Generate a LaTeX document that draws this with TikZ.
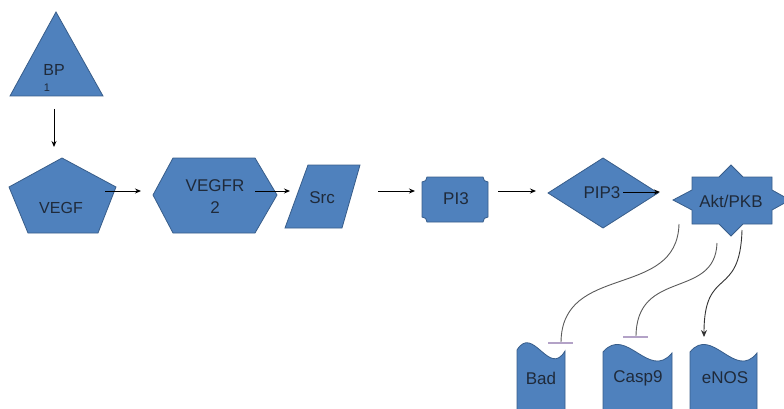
\documentclass[tikz,border=0pt]{standalone}
\usepackage{fontspec}
\setmainfont{Liberation Sans}
\usetikzlibrary{arrows.meta}
\definecolor{shapefill}{HTML}{4F81BD}
\definecolor{shapeline}{HTML}{385D8A}
\definecolor{curvecol}{HTML}{5A5A5A}
\definecolor{barcol}{HTML}{B3A2C7}
\definecolor{txtcol}{HTML}{1F2A3A}
\tikzset{
  blob/.style={fill=shapefill,draw=shapeline,line width=0.8pt,line join=miter},
  lbl/.style={text=txtcol,font=\fontsize{17}{20}\selectfont,inner sep=0pt},
  arr/.style={draw=black,line width=0.9pt,-{Stealth[length=6pt,width=5pt]}},
  crv/.style={draw=curvecol,line width=0.9pt},
  crvarr/.style={draw=black!80,line width=0.9pt,-{Stealth[length=7pt,width=6pt]}},
  inhbar/.style={draw=barcol,line width=1.8pt}
}
\begin{document}
\begin{tikzpicture}[x=1pt,y=-1pt]
\useasboundingbox (0,0) rectangle (784,409);
% BP1 triangle
\path[blob] (56,12) -- (103,96) -- (10,96) -- cycle;
\node[lbl,font=\fontsize{16}{19}\selectfont] (bp) at (54,70) {BP};
\node[lbl,font=\fontsize{11}{13}\selectfont] (bpone) at (47,88) {1};
% VEGF pentagon
\path[blob] (62,158) -- (116,187) -- (98,233) -- (28,233) -- (9,187) -- cycle;
\node[lbl,font=\fontsize{16}{19}\selectfont] (vegf) at (61,208) {VEGF};
% VEGFR2 hexagon
\path[blob] (153,195) -- (173,158) -- (255,158) -- (277,195) -- (255,233) -- (173,233) -- cycle;
\node[lbl] (vegfr) at (215,186) {VEGFR};
\node[lbl] (vegfrtwo) at (215,208) {2};
% Src parallelogram
\path[blob] (308,165) -- (360,165) -- (342,228) -- (285,228) -- cycle;
\node[lbl] (src) at (322,198) {Src};
% PI3 plaque
\path[blob] (427,177) -- (483,177) .. controls (483,180) and (485,182) .. (488,182)
  -- (488,217) .. controls (485,217) and (483,219) .. (483,222)
  -- (427,222) .. controls (427,219) and (425,217) .. (422,217)
  -- (422,182) .. controls (425,182) and (427,180) .. (427,177) -- cycle;
\node[lbl] (pi3) at (456,199) {PI3};
% PIP3 diamond
\path[blob] (548,193) -- (603,158) -- (658,193) -- (603,228) -- cycle;
\node[lbl] (pip3) at (602,193) {PIP3};
% Akt/PKB star
\path[blob] (673,200) -- (692,190) -- (692,177) -- (719,177) -- (731,165) -- (743,177)
  -- (772,177) -- (772,190) -- (790,200) -- (772,210) -- (772,224) -- (743,224)
  -- (731,236) -- (719,224) -- (692,224) -- (692,210) -- cycle;
\node[lbl] (akt) at (731,201) {Akt/PKB};
% wave shapes
\path[blob] (517,350) .. controls (533,324) and (549,378) .. (565,351)
  -- (565,421) .. controls (549,448) and (533,394) .. (517,420) -- cycle;
\node[lbl] (bad) at (541,378) {Bad};
\path[blob] (603,352) .. controls (626,325) and (649,381) .. (672,353)
  -- (672,423) .. controls (649,451) and (626,395) .. (603,422) -- cycle;
\node[lbl] (casp) at (638,378) {Casp9};
\path[blob] (690,352) .. controls (712,325) and (735,381) .. (757,353)
  -- (757,423) .. controls (735,451) and (712,395) .. (690,422) -- cycle;
\node[lbl] (enos) at (725,378) {eNOS};
% connector end points
\coordinate (c1a) at (54,109); \coordinate (c1b) at (54,147);
\coordinate (c2a) at (105,191); \coordinate (c2b) at (141,191);
\coordinate (c3a) at (255,191); \coordinate (c3b) at (290,191);
\coordinate (c4a) at (378,191); \coordinate (c4b) at (415,191);
\coordinate (c5a) at (498,191); \coordinate (c5b) at (536,191);
\coordinate (c6a) at (623,192); \coordinate (c6b) at (660,192);
\coordinate (k1a) at (679,224); \coordinate (k1b) at (561,343);
\coordinate (k2a) at (717,243); \coordinate (k2b) at (636,337);
\coordinate (k3a) at (742,230); \coordinate (k3b) at (704,337);
\coordinate (b1l) at (548,343); \coordinate (b1r) at (573,343);
\coordinate (b2l) at (623,337); \coordinate (b2r) at (648,337);
% straight arrows
\draw[arr] (c1a) -- (c1b);
\draw[arr] (c2a) -- (c2b);
\draw[arr] (c3a) -- (c3b);
\draw[arr] (c4a) -- (c4b);
\draw[arr] (c5a) -- (c5b);
\draw[arr] (c6a) -- (c6b);
% curved connectors
\draw[crv] (k1a) .. controls (677,300) and (561,262) .. (k1b);
\draw[inhbar] (b1l) -- (b1r);
\draw[crv] (k2a) .. controls (715,300) and (636,268) .. (k2b);
\draw[inhbar] (b2l) -- (b2r);
\draw[crvarr] (k3a) .. controls (740,300) and (704,265) .. (k3b);
\end{tikzpicture}
\end{document}
